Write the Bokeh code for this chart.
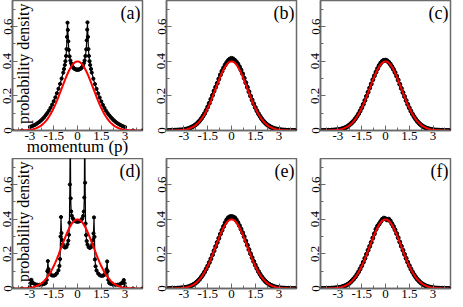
import math
from bokeh.plotting import figure
from bokeh.layouts import column, row
from bokeh.models import FixedTicker, Label
from bokeh.embed import file_html
from bokeh.resources import INLINE

FONT = "Liberation Serif"
GRAY = "#6a6a6a"

# ---------------- data ----------------
x_ticks = [-3, -1.5, 0, 1.5, 3]
x_tick_labels = ["-3", "-1.5", "0", "1.5", "3"]
x_minor = [-3.75, -2.25, -0.75, 0.75, 2.25, 3.75]
y_ticks = [0, 0.2, 0.4, 0.6]
y_tick_labels = ["0", "0.2", "0.4", "0.6"]
y_minor = [0.1, 0.3, 0.5, 0.7]

panel_names = ["(a)", "(b)", "(c)", "(d)", "(e)", "(f)"]
x_title = "momentum (p)"
y_title = "probability density"

# momentum grid for the smooth panels and the red reference curve
p_grid = [-4.0, -3.9, -3.8, -3.7, -3.6, -3.5, -3.4, -3.3, -3.2, -3.1,
          -3.0, -2.9, -2.8, -2.7, -2.6, -2.5, -2.4, -2.3, -2.2, -2.1,
          -2.0, -1.9, -1.8, -1.7, -1.6, -1.5, -1.4, -1.3, -1.2, -1.1,
          -1.0, -0.9, -0.8, -0.7, -0.6, -0.5, -0.4, -0.3, -0.2, -0.1,
          0.0,
          0.1, 0.2, 0.3, 0.4, 0.5, 0.6, 0.7, 0.8, 0.9, 1.0,
          1.1, 1.2, 1.3, 1.4, 1.5, 1.6, 1.7, 1.8, 1.9, 2.0,
          2.1, 2.2, 2.3, 2.4, 2.5, 2.6, 2.7, 2.8, 2.9, 3.0,
          3.1, 3.2, 3.3, 3.4, 3.5, 3.6, 3.7, 3.8, 3.9, 4.0]

red_curve = [0.0001, 0.0002, 0.0003, 0.0004, 0.0006, 0.0009, 0.0012, 0.0017, 0.0024, 0.0033,
             0.0044, 0.0060, 0.0079, 0.0104, 0.0136, 0.0175, 0.0224, 0.0283, 0.0355, 0.0440,
             0.0540, 0.0656, 0.0790, 0.0940, 0.1109, 0.1295, 0.1497, 0.1714, 0.1942, 0.2179,
             0.2420, 0.2661, 0.2897, 0.3123, 0.3332, 0.3521, 0.3683, 0.3814, 0.3910, 0.3970,
             0.3989,
             0.3970, 0.3910, 0.3814, 0.3683, 0.3521, 0.3332, 0.3123, 0.2897, 0.2661, 0.2420,
             0.2179, 0.1942, 0.1714, 0.1497, 0.1295, 0.1109, 0.0940, 0.0790, 0.0656, 0.0540,
             0.0440, 0.0355, 0.0283, 0.0224, 0.0175, 0.0136, 0.0104, 0.0079, 0.0060, 0.0044,
             0.0033, 0.0024, 0.0017, 0.0012, 0.0009, 0.0006, 0.0004, 0.0003, 0.0002, 0.0001]

# panel (a): black data
a_p = [-4.1, -3.5, -3.05, -3.0, -2.9, -2.8, -2.7, -2.6, -2.5, -2.4, -2.3, -2.2, -2.1, -2.0,
       -1.9, -1.8, -1.7, -1.6, -1.5, -1.4, -1.3, -1.2, -1.1, -1.0, -0.9, -0.85, -0.8, -0.76,
       -0.72, -0.69, -0.66, -0.63, -0.61, -0.58, -0.55, -0.5, -0.45, -0.4, -0.35, -0.3, -0.25,
       -0.2, -0.15, -0.1, -0.05, 0.0,
       0.05, 0.1, 0.15, 0.2, 0.25, 0.3, 0.35, 0.4, 0.45, 0.5, 0.55, 0.58, 0.61, 0.63, 0.66,
       0.69, 0.72, 0.76, 0.8, 0.85, 0.9, 1.0, 1.1, 1.2, 1.3, 1.4, 1.5, 1.6, 1.7, 1.8, 1.9,
       2.0, 2.1, 2.2, 2.3, 2.4, 2.5, 2.6, 2.7, 2.8, 2.9, 3.0, 3.05, 3.5, 4.1]
a_rho = [0.0, 0.0, 0.0, 0.021, 0.024, 0.028, 0.032, 0.037, 0.044, 0.050, 0.058, 0.067, 0.077, 0.089,
         0.101, 0.115, 0.131, 0.149, 0.169, 0.191, 0.215, 0.241, 0.269, 0.300, 0.334, 0.355, 0.378, 0.400,
         0.430, 0.470, 0.540, 0.622, 0.580, 0.515, 0.465, 0.428, 0.404, 0.388, 0.376, 0.367, 0.361,
         0.357, 0.354, 0.352, 0.351, 0.351,
         0.351, 0.352, 0.354, 0.357, 0.361, 0.367, 0.376, 0.388, 0.404, 0.430, 0.468, 0.520, 0.582, 0.624, 0.540,
         0.470, 0.430, 0.400, 0.378, 0.355, 0.334, 0.299, 0.268, 0.240, 0.214, 0.190, 0.168, 0.148, 0.130, 0.114, 0.100,
         0.088, 0.077, 0.067, 0.058, 0.050, 0.043, 0.037, 0.032, 0.027, 0.023, 0.020, 0.0, 0.0, 0.0]

# panel (d): black data
d_p = [-4.1, -3.5, -3.03, -3.0, -2.97, -2.92, -2.87, -2.8, -2.7, -2.55, -2.4, -2.25, -2.1, -2.0,
       -1.94, -1.9, -1.87, -1.83, -1.78, -1.7, -1.6, -1.5, -1.4, -1.3, -1.2, -1.14, -1.1, -1.07,
       -1.04, -1.01, -0.98, -0.93, -0.86, -0.78, -0.7, -0.63, -0.58, -0.54, -0.51, -0.48, -0.455,
       -0.43, -0.4, -0.36, -0.3, -0.24, -0.16, -0.08, 0.0,
       0.08, 0.16, 0.24, 0.3, 0.36, 0.4, 0.43, 0.455, 0.48, 0.51, 0.54, 0.58, 0.63, 0.7, 0.78,
       0.86, 0.93, 0.98, 1.01, 1.04, 1.07, 1.1, 1.14, 1.2, 1.3, 1.4, 1.5, 1.6, 1.7, 1.78, 1.83,
       1.87, 1.9, 1.94, 2.0, 2.1, 2.25, 2.4, 2.55, 2.7, 2.8, 2.87, 2.92, 2.97, 3.0, 3.03, 3.5, 4.1]
d_rho = [0.0, 0.0, 0.0, 0.010, 0.030, 0.050, 0.038, 0.031, 0.026, 0.022, 0.021, 0.022, 0.026, 0.032,
         0.050, 0.100, 0.158, 0.112, 0.093, 0.081, 0.075, 0.074, 0.078, 0.088, 0.105, 0.130, 0.170, 0.300,
         0.412, 0.320, 0.280, 0.256, 0.241, 0.236, 0.240, 0.255, 0.276, 0.310, 0.380, 0.600, 0.980,
         0.520, 0.445, 0.420, 0.405, 0.397, 0.390, 0.386, 0.385,
         0.386, 0.389, 0.396, 0.404, 0.419, 0.444, 0.525, 0.980, 0.610, 0.375, 0.308, 0.274, 0.254, 0.239, 0.234,
         0.239, 0.254, 0.279, 0.318, 0.410, 0.298, 0.168, 0.128, 0.104, 0.087, 0.077, 0.073, 0.074, 0.079, 0.091, 0.110,
         0.156, 0.100, 0.050, 0.032, 0.026, 0.022, 0.021, 0.022, 0.026, 0.032, 0.038, 0.049, 0.030, 0.010, 0.0, 0.0, 0.0]

# panels (b), (c), (e), (f): black data on p_grid
b_rho = [0.000, 0.000, 0.001, 0.001, 0.001, 0.002, 0.002, 0.003, 0.003, 0.004,
         0.005, 0.007, 0.009, 0.012, 0.016, 0.020, 0.025, 0.031, 0.038, 0.047,
         0.057, 0.069, 0.083, 0.098, 0.116, 0.136, 0.157, 0.180, 0.203, 0.228,
         0.250, 0.272, 0.297, 0.321, 0.342, 0.361, 0.378, 0.392, 0.404, 0.412,
         0.416,
         0.413, 0.405, 0.396, 0.384, 0.368, 0.349, 0.327, 0.302, 0.276, 0.250,
         0.224, 0.199, 0.176, 0.154, 0.133, 0.114, 0.097, 0.082, 0.068, 0.056,
         0.046, 0.037, 0.030, 0.024, 0.019, 0.015, 0.011, 0.009, 0.007, 0.005,
         0.004, 0.003, 0.002, 0.002, 0.001, 0.001, 0.001, 0.000, 0.000, 0.000]
c_rho = [0.000, 0.000, 0.000, 0.001, 0.001, 0.001, 0.002, 0.002, 0.003, 0.004,
         0.005, 0.006, 0.008, 0.011, 0.014, 0.018, 0.023, 0.030, 0.038, 0.046,
         0.056, 0.068, 0.081, 0.096, 0.113, 0.131, 0.151, 0.173, 0.197, 0.221,
         0.245, 0.268, 0.293, 0.316, 0.337, 0.357, 0.375, 0.389, 0.399, 0.405,
         0.406,
         0.402, 0.394, 0.383, 0.369, 0.353, 0.335, 0.314, 0.291, 0.267, 0.243,
         0.219, 0.196, 0.173, 0.151, 0.131, 0.112, 0.095, 0.080, 0.066, 0.054,
         0.044, 0.035, 0.028, 0.022, 0.017, 0.013, 0.010, 0.008, 0.006, 0.004,
         0.003, 0.002, 0.002, 0.001, 0.001, 0.001, 0.000, 0.000, 0.000, 0.000]
e_rho = [0.000, 0.000, 0.001, 0.001, 0.001, 0.001, 0.002, 0.002, 0.003, 0.004,
         0.005, 0.006, 0.008, 0.010, 0.014, 0.018, 0.023, 0.029, 0.036, 0.045,
         0.055, 0.067, 0.080, 0.095, 0.112, 0.130, 0.150, 0.171, 0.194, 0.218,
         0.242, 0.266, 0.290, 0.314, 0.336, 0.358, 0.379, 0.396, 0.408, 0.414,
         0.415,
         0.413, 0.408, 0.396, 0.381, 0.363, 0.343, 0.322, 0.299, 0.274, 0.250,
         0.225, 0.201, 0.178, 0.156, 0.135, 0.116, 0.098, 0.082, 0.068, 0.056,
         0.045, 0.036, 0.029, 0.023, 0.018, 0.014, 0.010, 0.008, 0.006, 0.004,
         0.003, 0.002, 0.002, 0.001, 0.001, 0.001, 0.000, 0.000, 0.000, 0.000]
f_rho = [0.000, 0.000, 0.000, 0.001, 0.001, 0.001, 0.002, 0.002, 0.003, 0.004,
         0.005, 0.006, 0.008, 0.011, 0.014, 0.018, 0.023, 0.029, 0.037, 0.046,
         0.056, 0.067, 0.081, 0.096, 0.113, 0.131, 0.152, 0.174, 0.197, 0.221,
         0.243, 0.266, 0.291, 0.316, 0.342, 0.360, 0.372, 0.386, 0.399, 0.406,
         0.402,
         0.396, 0.400, 0.390, 0.374, 0.358, 0.339, 0.317, 0.293, 0.268, 0.244,
         0.221, 0.197, 0.174, 0.152, 0.132, 0.113, 0.096, 0.080, 0.066, 0.054,
         0.044, 0.035, 0.028, 0.022, 0.017, 0.013, 0.010, 0.008, 0.006, 0.004,
         0.003, 0.002, 0.002, 0.001, 0.001, 0.001, 0.000, 0.000, 0.000, 0.000]

# ---------------- layout ----------------
W, H = 130, 130


def make_panel(name, px, py, dense, left, right, top, bottom, ylabel=False, xlabel=False):
    p = figure(frame_width=W, frame_height=H, x_range=(-4.1, 4.1), y_range=(0, 0.75),
               output_backend="svg", toolbar_location=None,
               min_border_left=left, min_border_right=right,
               min_border_top=top, min_border_bottom=bottom,
               background_fill_color="white", border_fill_color="white")
    p.grid.visible = False
    p.outline_line_color = GRAY
    p.outline_line_width = 1.5

    p.xaxis.ticker = FixedTicker(ticks=x_ticks, minor_ticks=x_minor)
    p.xaxis.major_label_overrides = dict(zip(x_ticks, x_tick_labels))
    p.yaxis.ticker = FixedTicker(ticks=y_ticks, minor_ticks=y_minor)
    p.yaxis.major_label_overrides = dict(zip(y_ticks, y_tick_labels))
    p.yaxis.major_label_orientation = "vertical"
    for ax in (p.xaxis[0], p.yaxis[0]):
        ax.major_tick_in = 5
        ax.major_tick_out = 0
        ax.minor_tick_in = 3
        ax.minor_tick_out = 0
        ax.axis_line_color = GRAY
        ax.axis_line_width = 1.5
        ax.major_tick_line_color = GRAY
        ax.minor_tick_line_color = GRAY
        ax.major_label_text_font = FONT
        ax.major_label_text_font_size = "13px"
        ax.major_label_text_color = "black"
        ax.major_label_standoff = 1

    if xlabel:
        p.xaxis.axis_label = x_title
        p.xaxis.axis_label_text_font = FONT
        p.xaxis.axis_label_text_font_size = "17px"
        p.xaxis.axis_label_text_font_style = "normal"
        p.xaxis.axis_label_text_color = "black"
        p.xaxis.axis_label_standoff = -6

    if dense:
        p.line(px, py, line_color="black", line_width=2.5)
        p.scatter(px, py, size=4, marker="circle", color="black")
    else:
        p.line(px, py, line_color="black", line_width=1.2)
        p.scatter(px, py, size=3.2, marker="circle", color="black")
    p.line(p_grid, red_curve, line_color="#ff0000", line_width=2)

    p.add_layout(Label(x=3.98, y=0.737, text=name, text_align="right", text_baseline="top",
                       text_font=FONT, text_font_size="18px", text_color="black"))
    if ylabel:
        p.add_layout(Label(x=-3.4, y=0.385, text=y_title, angle=math.pi / 2,
                           text_align="center", text_baseline="middle",
                           text_font=FONT, text_font_size="16px", text_color="black"))
    return p


pa = make_panel(panel_names[0], a_p, a_rho, False, 12, 7, 0, 10, xlabel=True, ylabel=True)
pb = make_panel(panel_names[1], p_grid, b_rho, True, 17, 7, 0, 10)
pc = make_panel(panel_names[2], p_grid, c_rho, True, 17, 2, 0, 10)
pd = make_panel(panel_names[3], d_p, d_rho, False, 12, 7, 0, 10, ylabel=True)
pe = make_panel(panel_names[4], p_grid, e_rho, True, 17, 7, 0, 10)
pf = make_panel(panel_names[5], p_grid, f_rho, True, 17, 2, 0, 10)

layout = column(row(pa, pb, pc), row(pd, pe, pf))

open("out.html", "w").write(file_html(layout, INLINE))
